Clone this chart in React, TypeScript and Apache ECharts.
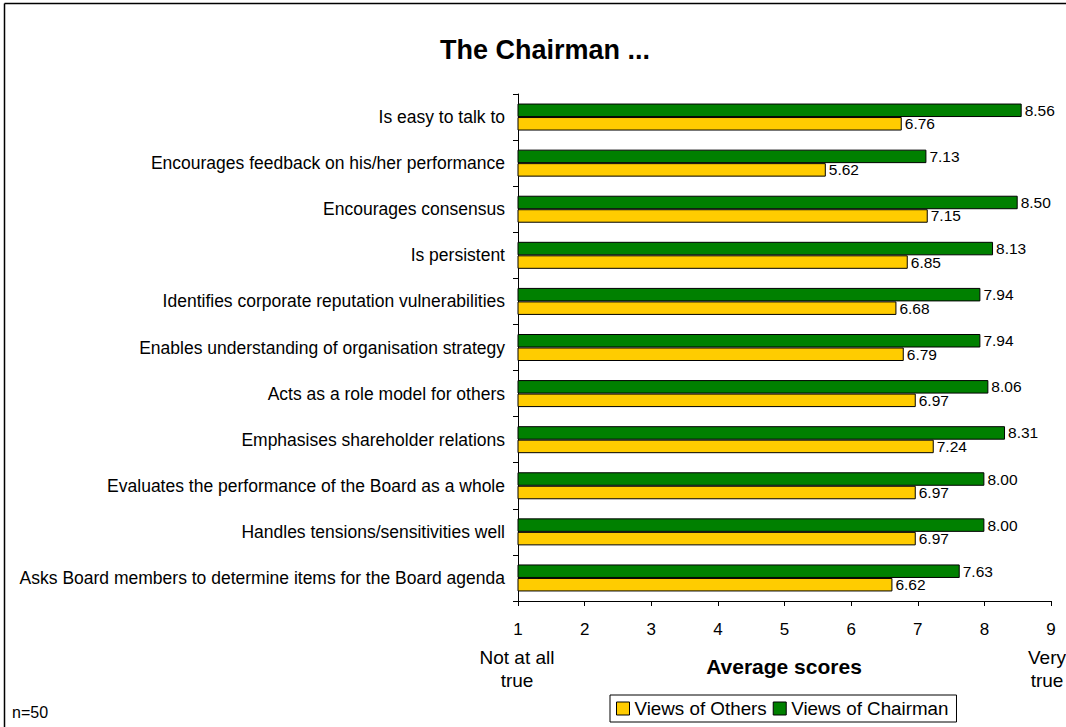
import React, { useEffect, useRef } from "react";
import * as echarts from "echarts";

const categories = [
  "Is easy to talk to",
  "Encourages feedback on his/her performance",
  "Encourages consensus",
  "Is persistent",
  "Identifies corporate reputation vulnerabilities",
  "Enables understanding of organisation strategy",
  "Acts as a role model for others",
  "Emphasises shareholder relations",
  "Evaluates the performance of the Board as a whole",
  "Handles tensions/sensitivities well",
  "Asks Board members to determine items for the Board agenda",
];
const chairman = [8.56, 7.13, 8.5, 8.13, 7.94, 7.94, 8.06, 8.31, 8.0, 8.0, 7.63];
const others = [6.76, 5.62, 7.15, 6.85, 6.68, 6.79, 6.97, 7.24, 6.97, 6.97, 6.62];
const xTicks = [1, 2, 3, 4, 5, 6, 7, 8, 9];

const FONT = "Liberation Sans, Arial, sans-serif";

export default function App() {
  const ref = useRef<HTMLDivElement>(null);
  useEffect(() => {
    const chart = echarts.init(ref.current!, null, { renderer: "svg" });
    const label = {
      show: true,
      position: "right" as const,
      distance: 3,
      color: "#000",
      fontFamily: FONT,
      fontSize: 15.5,
      formatter: (p: any) => Number(p.value).toFixed(2),
    };
    chart.setOption({
      animation: false,
      backgroundColor: "#fff",
      textStyle: { fontFamily: FONT },
      title: {
        text: "The Chairman ...",
        left: 540,
        top: 31,
        textAlign: "center",
        textStyle: { fontFamily: FONT, fontSize: 27, fontWeight: "bold", color: "#000" },
      },
      legend: {
        data: ["Views of Others", "Views of Chairman"],
        left: 610,
        top: 695,
        padding: [4, 8, 4, 6],
        borderColor: "#000",
        borderWidth: 1,
        itemWidth: 13,
        itemHeight: 13,
        itemGap: 6,
        icon: "rect",
        itemStyle: { borderColor: "#000", borderWidth: 1 },
        textStyle: { fontFamily: FONT, fontSize: 18.8, color: "#000" },
      },
      grid: { left: 518, right: 15, top: 94, bottom: 126, containLabel: false },
      xAxis: {
        type: "value",
        min: xTicks[0],
        max: xTicks[xTicks.length - 1],
        interval: 1,
        axisLine: { show: true, lineStyle: { color: "#000", width: 1 } },
        axisTick: { show: true, length: 5, lineStyle: { color: "#000" } },
        splitLine: { show: false },
        axisLabel: { fontFamily: FONT, fontSize: 17, color: "#000", margin: 20 },
      },
      yAxis: {
        type: "category",
        data: categories,
        inverse: true,
        axisLine: { show: true, lineStyle: { color: "#000", width: 1 } },
        axisTick: { show: true, length: 5, lineStyle: { color: "#000" } },
        axisLabel: { fontFamily: FONT, fontSize: 17.5, color: "#000", margin: 13 },
      },
      series: [
        {
          name: "Views of Chairman",
          type: "bar",
          data: chairman,
          barWidth: 13.5,
          barGap: "0%",
          itemStyle: { color: "#008000", borderColor: "#000", borderWidth: 1 },
          label,
        },
        {
          name: "Views of Others",
          type: "bar",
          data: others,
          barWidth: 13.5,
          barGap: "0%",
          itemStyle: { color: "#FFCC00", borderColor: "#000", borderWidth: 1 },
          label,
        },
      ],
      graphic: [
        { type: "line", shape: { x1: 4.5, y1: 3.5, x2: 1066, y2: 3.5 }, style: { stroke: "#000", lineWidth: 1.5 } },
        { type: "line", shape: { x1: 4.5, y1: 3.5, x2: 4.5, y2: 727 }, style: { stroke: "#000", lineWidth: 1.5 } },
        {
          type: "text",
          x: 517,
          y: 669,
          style: { text: "Not at all\ntrue", font: `19px ${FONT}`, fill: "#000", align: "center", verticalAlign: "middle", lineHeight: 23 },
        },
        {
          type: "text",
          x: 1047,
          y: 669,
          style: { text: "Very\ntrue", font: `19px ${FONT}`, fill: "#000", align: "center", verticalAlign: "middle", lineHeight: 23 },
        },
        {
          type: "text",
          x: 784,
          y: 666,
          style: { text: "Average scores", font: `bold 21px ${FONT}`, fill: "#000", align: "center", verticalAlign: "middle" },
        },
        {
          type: "text",
          x: 12,
          y: 712,
          style: { text: "n=50", font: `16px ${FONT}`, fill: "#000", verticalAlign: "middle" },
        },
      ],
    });
    return () => chart.dispose();
  }, []);
  return (
    <div
      ref={ref}
      style={{ position: "fixed", left: 0, top: 0, width: 1066, height: 727 }}
    />
  );
}
